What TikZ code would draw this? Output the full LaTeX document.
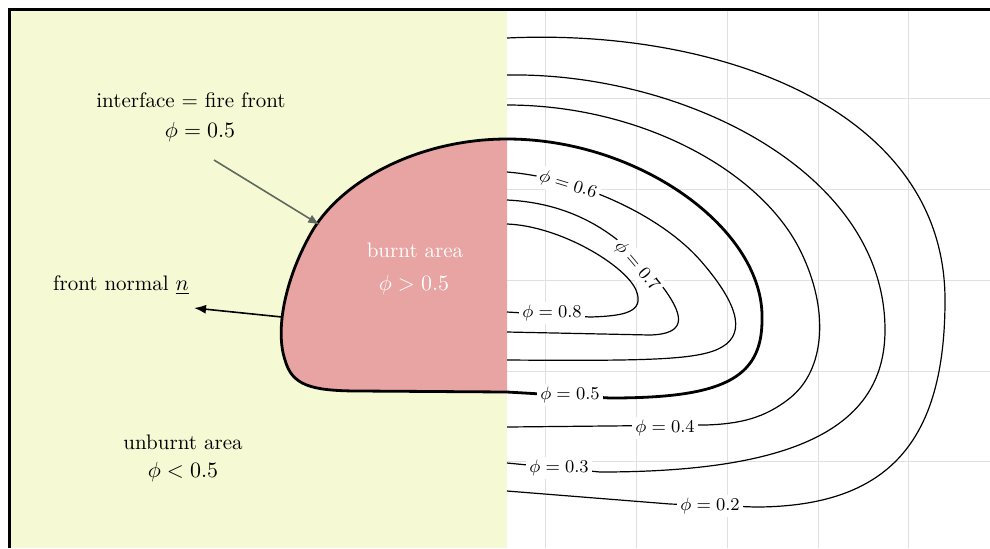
\documentclass[tikz,border=0pt]{standalone}
\usetikzlibrary{arrows.meta}
\definecolor{unburnt}{RGB}{245,250,212}
\definecolor{burnt}{RGB}{232,163,163}
\definecolor{gridgray}{RGB}{224,224,224}
\definecolor{arrowgray}{RGB}{95,105,95}
\begin{document}
\begin{tikzpicture}[x=0.5pt,y=-0.5pt,
  contour/.style={line width=0.6pt},
  frontline/.style={line width=1.4pt},
  clabel/.style={fill=white, inner sep=1.5pt, font=\fontsize{9.4}{11}\selectfont},
  maintext/.style={font=\fontsize{10.5}{12.6}\selectfont, inner sep=0pt},
  whitetext/.style={font=\fontsize{10.5}{12.6}\selectfont, inner sep=0pt, text=white},
  gridline/.style={gridgray, line width=0.5pt},
  pointer/.style={line width=0.8pt, -{Latex[length=6pt,width=4.5pt]}}]
\useasboundingbox (0,0) rectangle (990,548);
\fill[white] (0,0) rectangle (990,548);
% grid
\foreach \gx in {545,636,727,818,908} \draw[gridline] (\gx,10) -- (\gx,548);
\foreach \gy in {98,189,280,371,461} \draw[gridline] (507,\gy) -- (990,\gy);
% unburnt half
\fill[unburnt] (9,9) rectangle (507,548);
% burnt area (left half)
\fill[burnt] (507,139) .. controls (420,139) and (340,180) .. (310,235)
  .. controls (285,280) and (275,330) .. (285,360)
  .. controls (292,385) and (310,391) .. (360,391) -- (507,392) -- cycle;
% contours
\draw[contour] (507,38) .. controls (720,28) and (945,110) .. (945,300)
  .. controls (945,440) and (890,507) .. (755,507) -- (670,504) -- (507,491);
\draw[contour] (507,75) .. controls (680,72) and (885,170) .. (885,330)
  .. controls (885,430) and (790,472) .. (600,472) -- (507,463);
\draw[contour] (507,105) .. controls (640,105) and (760,170) .. (800,250)
  .. controls (830,310) and (825,370) .. (790,398)
  .. controls (765,418) and (740,424) .. (705,425) -- (507,427);
\draw[contour] (507,172) .. controls (580,178) and (660,215) .. (700,260)
  .. controls (735,300) and (748,332) .. (722,347)
  .. controls (700,360) and (650,361) .. (507,360);
\draw[contour] (507,200) .. controls (590,204) and (635,250) .. (665,290)
  .. controls (685,318) and (685,334) .. (650,335) -- (507,332);
\draw[contour] (507,224) .. controls (560,226) and (625,265) .. (636,290)
  .. controls (645,312) and (625,316) .. (590,317) -- (507,312);
% fire front phi = 0.5
\draw[frontline] (507,139) .. controls (420,139) and (340,180) .. (310,235)
  .. controls (285,280) and (275,330) .. (285,360)
  .. controls (292,385) and (310,391) .. (360,391) -- (507,392);
\draw[frontline] (507,139) .. controls (640,139) and (765,230) .. (762,320)
  .. controls (762,380) and (720,398) .. (610,398) -- (507,392);
% contour labels
\node[clabel, rotate=-17] (l6) at (568,185) {$\phi = 0.6$};
\node[clabel, rotate=-50] (l7) at (637,266) {$\phi = 0.7$};
\node[clabel] (l8) at (552,313) {$\phi = 0.8$};
\node[clabel] (l5) at (570,395) {$\phi = 0.5$};
\node[clabel] (l4) at (665,428) {$\phi = 0.4$};
\node[clabel] (l3) at (559,468) {$\phi = 0.3$};
\node[clabel] (l2) at (710,506) {$\phi = 0.2$};
% frame
\draw[line width=1.5pt] (9,548) -- (9,9) -- (990,9);
% texts
\node[maintext] (iface) at (191,100) {interface = fire front};
\node[maintext] (ifacephi) at (200,132) {$\phi = 0.5$};
\node[maintext] (normal) at (121,285) {front normal $\underline{n}$};
\node[maintext] (unb) at (183,442) {unburnt area};
\node[maintext] (unbphi) at (183,472) {$\phi < 0.5$};
\node[whitetext] (brn) at (415,250) {burnt area};
\node[whitetext] (brnphi) at (414,285) {$\phi > 0.5$};
% pointers
\coordinate (ifacetail) at (214,160);
\coordinate (ifacetip) at (320,225);
\coordinate (normaltail) at (282,317);
\coordinate (normaltip) at (194,308);
\draw[pointer, arrowgray] (ifacetail) -- (ifacetip);
\draw[pointer] (normaltail) -- (normaltip);
\end{tikzpicture}
\end{document}
